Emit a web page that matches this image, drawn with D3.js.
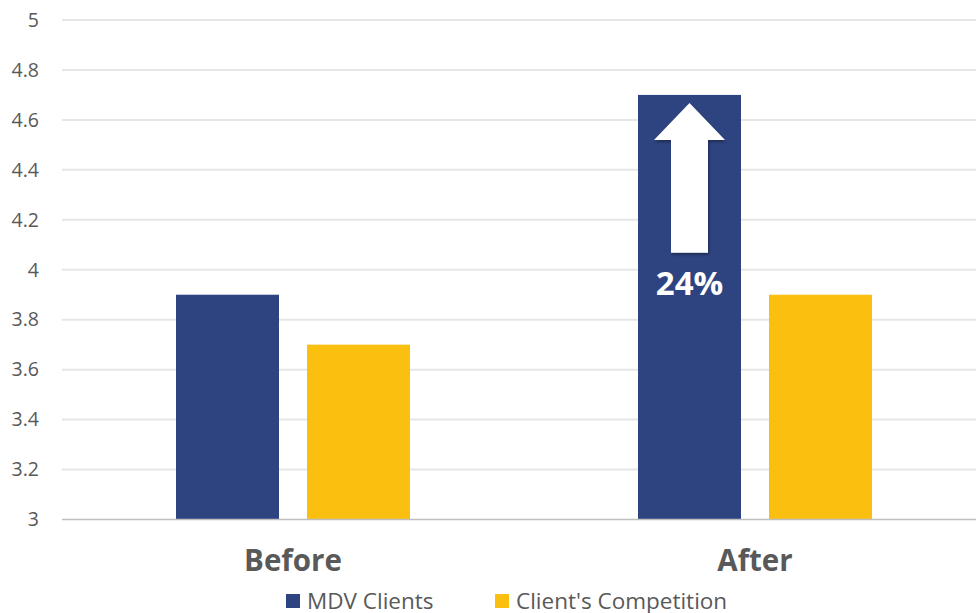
<!DOCTYPE html>
<html>
<head>
<meta charset="utf-8">
<script src="https://cdn.jsdelivr.net/npm/d3@7"></script>
<style>
  body { margin: 0; background: #fff; }
  svg { display: block; font-family: "Open Sans", sans-serif; }
</style>
</head>
<body>
<div id="chart"></div>
<script>
// chart data
const categories = ["Before", "After"];
const seriesNames = ["MDV Clients", "Client's Competition"];
const mdvValues = [3.9, 4.7];
const competitionValues = [3.7, 3.9];
const yTicks = [3, 3.2, 3.4, 3.6, 3.8, 4, 4.2, 4.4, 4.6, 4.8, 5];
const growthLabel = "24%";

const colors = ["#2e4480", "#fbbf10"];

const width = 976, height = 613;
const margin = { top: 20, right: -10, bottom: 94, left: 62 };

const svg = d3.select("#chart").append("svg")
    .attr("width", width)
    .attr("height", height);

const x0 = d3.scaleBand()
    .domain(categories)
    .range([margin.left, width - margin.right])
    .paddingInner(0)
    .paddingOuter(0);

const y = d3.scaleLinear()
    .domain([3, 5])
    .range([height - margin.bottom + 0.5, margin.top]);

// gridlines
svg.append("g")
    .selectAll("line")
    .data(yTicks.slice(1))
    .join("line")
    .attr("x1", margin.left)
    .attr("x2", width)
    .attr("y1", d => y(d))
    .attr("y2", d => y(d))
    .attr("stroke", "#e6e6e6")
    .attr("stroke-width", 2);

// y tick labels
const yAxis = d3.axisLeft(y)
    .tickValues(yTicks)
    .tickSize(0)
    .tickPadding(0)
    .tickFormat(d => d3.format("")(d));

svg.append("g")
    .attr("transform", `translate(39,0)`)
    .call(yAxis)
    .call(g => g.select(".domain").remove())
    .call(g => g.selectAll("text")
        .attr("fill", "#595959")
        .attr("font-size", 19.5)
        .attr("font-family", "Open Sans"));

// bars
const barW = 103, gap = 28;
const groups = categories.map((c, i) => ({ cat: c, vals: [mdvValues[i], competitionValues[i]] }));

const g = svg.append("g")
    .selectAll("g")
    .data(groups)
    .join("g")
    .attr("transform", d => `translate(${x0(d.cat) + x0.bandwidth() / 2},0)`);

g.selectAll("rect")
    .data(d => d.vals)
    .join("rect")
    .attr("x", (d, i) => i === 0 ? -(barW + gap / 2) : gap / 2)
    .attr("y", d => y(d))
    .attr("width", barW)
    .attr("height", d => y(3) - y(d))
    .attr("fill", (d, i) => colors[i]);

// baseline
svg.append("line")
    .attr("x1", margin.left)
    .attr("x2", width)
    .attr("y1", y(3))
    .attr("y2", y(3))
    .attr("stroke", "#bfbfbf")
    .attr("stroke-width", 1.5);

// category labels
svg.append("g")
    .selectAll("text")
    .data(categories)
    .join("text")
    .attr("x", d => x0(d) + x0.bandwidth() / 2)
    .attr("y", 571)
    .attr("text-anchor", "middle")
    .attr("font-size", 29.5)
    .attr("font-weight", "bold")
    .attr("fill", "#595959")
    .text(d => d);

// growth arrow on the After MDV bar
const ax = x0("After") + x0.bandwidth() / 2 - (barW + gap / 2) + barW / 2;
const tipY = y(4.668), headY = y(4.52), baseY = y(4.068);
const headHalf = 35.5, shaftHalf = 18.5;

const defs = svg.append("defs");
const filt = defs.append("filter").attr("id", "shadow").attr("x", "-20%").attr("y", "-20%")
    .attr("width", "140%").attr("height", "140%");
filt.append("feDropShadow").attr("dx", 1).attr("dy", 2).attr("stdDeviation", 1.5)
    .attr("flood-color", "#000").attr("flood-opacity", 0.35);

svg.append("path")
    .attr("d", `M${ax},${tipY} L${ax + headHalf},${headY} L${ax + shaftHalf},${headY} L${ax + shaftHalf},${baseY}
        L${ax - shaftHalf},${baseY} L${ax - shaftHalf},${headY} L${ax - headHalf},${headY} Z`)
    .attr("fill", "#fff")
    .attr("filter", "url(#shadow)");

svg.append("text")
    .attr("x", ax)
    .attr("y", y(3.9))
    .attr("text-anchor", "middle")
    .attr("font-size", 33)
    .attr("font-weight", "bold")
    .attr("fill", "#fff")
    .text(growthLabel);

// legend
const legend = svg.append("g").attr("transform", "translate(0,609)");
const legendX = [286, 495];
seriesNames.forEach((name, i) => {
    legend.append("rect")
        .attr("x", legendX[i])
        .attr("y", -15)
        .attr("width", 14)
        .attr("height", 14)
        .attr("fill", colors[i]);
    legend.append("text")
        .attr("x", legendX[i] + 21)
        .attr("y", 0)
        .attr("font-size", 22.5)
        .attr("fill", "#595959")
        .text(name);
});
</script>
</body>
</html>
